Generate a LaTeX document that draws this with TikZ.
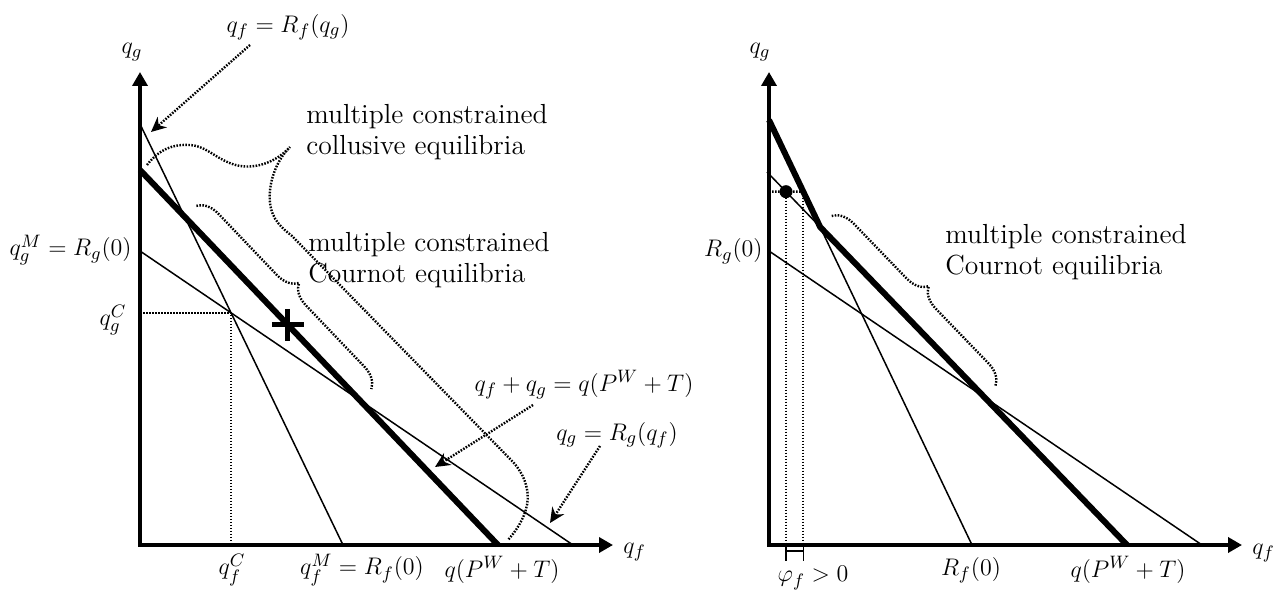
\documentclass[tikz,border=0pt]{standalone}
\usepackage{amsmath}
\usetikzlibrary{arrows.meta,calc,decorations.pathreplacing}
\newcommand{\lblfont}{\fontsize{12.4}{15}\selectfont}
\newcommand{\notefont}{\fontsize{13.8}{15.5}\selectfont}
\tikzset{
  axes/.style={line width=2pt,
               {Triangle[length=7pt,width=7.5pt]}-{Triangle[length=7pt,width=7.5pt]}},
  resp/.style={line width=0.75pt},
  budget/.style={line width=3pt},
  guide/.style={line width=1.2pt, dash pattern=on 0.8pt off 0.7pt},
  ptr/.style={guide, -{Stealth[length=7.5pt,width=7pt]}},
  brc/.style={guide, decorate, decoration={brace, amplitude=10.5pt}},
  lbl/.style={inner sep=0pt, font=\lblfont},
  note/.style={inner sep=0pt, font=\notefont, align=left, anchor=west},
}

\begin{document}
\begin{tikzpicture}[x=0.5pt, y=-0.5pt]
  \useasboundingbox (0,0) rectangle (1288,593);

  % left panel
  \coordinate (oL) at (140,545);
  \coordinate (yL) at (140,72);
  \coordinate (xL) at (613,545);
  \coordinate (rfL0) at (140,124);
  \coordinate (rfL1) at (343,545);
  \coordinate (bL0) at (140,170);
  \coordinate (bL1) at (498,545);
  \coordinate (rgL0) at (140,251);
  \coordinate (rgL1) at (573,545);
  \coordinate (cL) at (intersection of rfL0--rfL1 and rgL0--rgL1);
  \coordinate (kL) at (intersection of rfL0--rfL1 and bL0--bL1);
  \coordinate (mL) at (intersection of bL0--bL1 and rgL0--rgL1);
  \coordinate (xpL) at ($(bL0)!0.413!(bL1)$);

  \draw[resp] (rfL0) -- (rfL1);
  \draw[resp] (rgL0) -- (rgL1);
  \draw[budget] (bL0) -- (bL1);
  \draw[guide] (cL -| oL) -- (cL) -- (cL |- oL);
  \draw[axes] (yL) -- (oL) -- (xL);
  \draw[line width=2.5pt] ($(xpL)+(-16,0)$) -- ($(xpL)+(16,0)$)
                          ($(xpL)+(0,-16)$) -- ($(xpL)+(0,16)$);

  \node[lbl] (qgL) at (132,52) {$q_g$};
  \node[lbl, anchor=east] (rg0L) at (132,250) {$q_g^M = R_g(0)$};
  \node[lbl] (qgcL) at (113,320) {$q_g^C$};
  \node[lbl] (qfcL) at (232,570) {$q_f^C$};
  \node[lbl] (rf0L) at (362,570) {$q_f^M = R_f(0)$};
  \node[lbl] (qpL) at (502,570) {$q(P^W+T)$};
  \node[lbl, anchor=west] (qfL) at (623,552) {$q_f$};
  \node[lbl] (rfeq) at (288,27) {$q_f = R_f(q_g)$};
  \node[lbl] (sumeq) at (584,385) {$q_f + q_g = q(P^W+T)$};
  \node[lbl] (rgeq) at (617,435) {$q_g = R_g(q_f)$};
  \node[note] (collL) at (306,132) {multiple constrained\\collusive equilibria};
  \node[note] (courL) at (308,260) {multiple constrained\\Cournot equilibria};

  \coordinate (aRf) at (151,132);
  \coordinate (aSum) at (435,467);
  \coordinate (aRg) at (550,523);
  \draw[ptr] ($(rfeq)+(-38,18)$) -- (aRf);
  \draw[ptr] ($(sumeq)+(-51,20)$) -- (aSum);
  \draw[ptr] ($(rgeq)+(-17,11)$) -- (aRg);

  \draw[brc] ($(kL)!8pt!90:(mL)$) -- ($(mL)!8pt!-90:(kL)$);
  \draw[guide] (147,165) .. controls (160,148) and (175,144) .. (190,145)
    .. controls (208,146) and (218,162) .. (240,166)
    .. controls (262,169) and (280,158) .. (290,147)
    .. controls (275,162) and (268,185) .. (270,203)
    .. controls (272,220) and (282,228) .. (292,236) -- (513,462)
    .. controls (524,474) and (530,490) .. (527,505)
    .. controls (524,520) and (515,532) .. (508,540);

  % right panel
  \coordinate (oR) at (769,545);
  \coordinate (yR) at (769,72);
  \coordinate (xR) at (1242,545);
  \coordinate (rfR0) at (769,120);
  \coordinate (rfR1) at (972,545);
  \coordinate (bR0) at (767,172);
  \coordinate (bR1) at (1127,545);
  \coordinate (rgR0) at (769,251);
  \coordinate (rgR1) at (1202,545);
  \coordinate (kR) at (intersection of rfR0--rfR1 and bR0--bR1);
  \coordinate (mR) at (intersection of bR0--bR1 and rgR0--rgR1);
  \coordinate (dR) at ($(bR0)!0.0528!(bR1)$);
  \path (dR) ++(100,0) coordinate (dR2);
  \coordinate (fR) at (intersection of rfR0--rfR1 and dR--dR2);

  \draw[resp] (bR0) -- (kR);
  \draw[resp] (kR) -- (rfR1);
  \draw[resp] (rgR0) -- (rgR1);
  \draw[budget] (rfR0) -- (kR) -- (bR1);
  \draw[guide] (dR -| oR) -- (fR);
  \draw[guide] (dR) -- (dR |- oR);
  \draw[guide] (fR) -- (fR |- oR);
  \draw[axes] (yR) -- (oR) -- (xR);
  \fill (dR) circle (3.25pt);
  \draw[line width=0.6pt] (dR |- oR) -- ++(0,16)
                          (fR |- oR) -- ++(0,16)
                          ($(dR |- oR)+(0,6)$) -- ($(fR |- oR)+(0,6)$);

  \node[lbl] (qgR) at (760,52) {$q_g$};
  \node[lbl, anchor=east] (rg0R) at (763,251) {$R_g(0)$};
  \node[lbl] (phiR) at (813,578) {$\varphi_f > 0$};
  \node[lbl] (rf0R) at (971,570) {$R_f(0)$};
  \node[lbl] (qpR) at (1128,570) {$q(P^W+T)$};
  \node[lbl, anchor=west] (qfR) at (1252,553) {$q_f$};
  \node[note] (courR) at (945,252) {multiple constrained\\Cournot equilibria};

  \draw[brc] ($(kR)!8pt!90:(mR)$) -- ($(mR)!8pt!-90:(kR)$);
\end{tikzpicture}
\end{document}
